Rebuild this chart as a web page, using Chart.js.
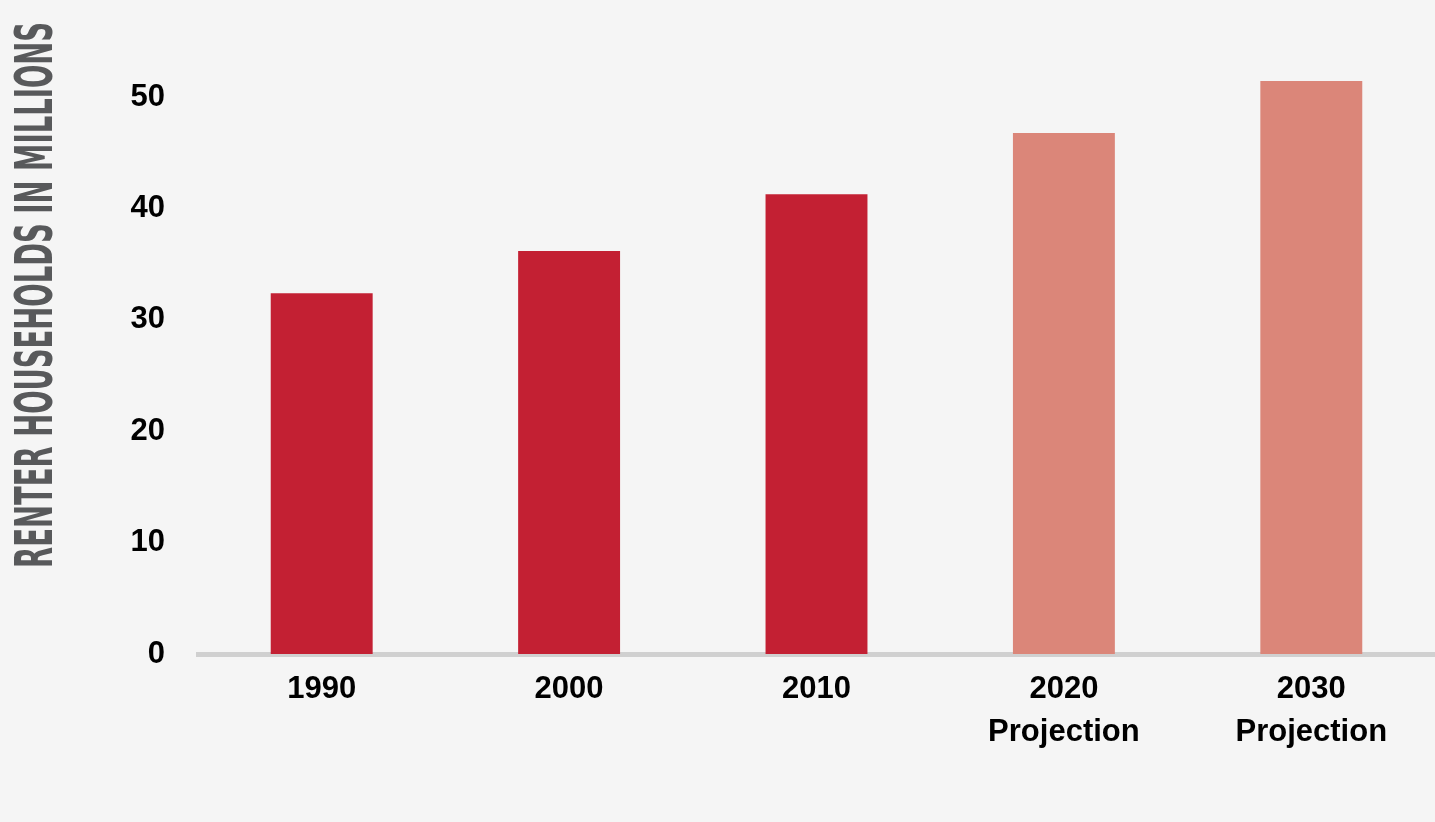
<!DOCTYPE html>
<html>
<head>
<meta charset="utf-8">
<script src="https://cdn.jsdelivr.net/npm/chart.js@4/dist/chart.umd.min.js"></script>
<style>
  html, body { margin: 0; padding: 0; background: #f5f5f5; }
  #wrap { width: 1435px; height: 822px; }
</style>
</head>
<body>
<div id="wrap"><canvas id="rentChart"></canvas></div>
<script>
let years = ["1990", "2000", "2010", ["2020", "Projection"], ["2030", "Projection"]];
let households = [32.4, 36.2, 41.3, 46.8, 51.45];
let barColors = ["#c32033", "#c32033", "#c32033", "#db8679", "#db8679"];
let yTicks = [0, 10, 20, 30, 40, 50];
let yTitle = "RENTER HOUSEHOLDS IN MILLIONS";

// rotated, squeezed axis title (the original uses a narrow display face)
let sideTitle = {
  id: "sideTitle",
  afterDraw(chart) {
    let ctx = chart.ctx;
    ctx.save();
    ctx.font = "bold 51px 'DejaVu Sans Condensed', 'Liberation Sans Narrow', 'DejaVu Sans', sans-serif";
    ctx.fillStyle = "#58595b";
    ctx.textAlign = "center";
    ctx.textBaseline = "alphabetic";
    let w = ctx.measureText(yTitle).width;
    ctx.translate(52, 295);
    ctx.rotate(-Math.PI / 2);
    ctx.scale(546 / w, 1);
    ctx.fillText(yTitle, 0, 0);
    ctx.restore();
  }
};

let ctx = document.getElementById("rentChart");
let rentChart = new Chart(ctx, {
  type: "bar",
  data: {
    labels: years,
    datasets: [{
      data: households,
      backgroundColor: barColors,
      borderWidth: 0,
      barPercentage: 0.412,
      categoryPercentage: 1
    }]
  },
  options: {
    responsive: true,
    maintainAspectRatio: false,
    animation: false,
    layout: { padding: { top: 30, left: 0, right: -2, bottom: 0 } },
    plugins: {
      legend: { display: false },
      tooltip: { enabled: false }
    },
    scales: {
      x: {
        grid: { display: false, drawTicks: false },
        border: { display: true, color: "#d0d0d0", width: 5 },
        ticks: {
          color: "#000",
          padding: 14,
          font: { family: "'Liberation Sans', Arial, sans-serif", size: 31, weight: "bold", lineHeight: 1.38 },
          maxRotation: 0,
          autoSkip: false
        },
        afterFit(scale) { scale.height = 168; }
      },
      y: {
        min: 0,
        max: 54.1,
        grid: { display: false, drawTicks: false },
        border: { display: false },
        ticks: {
          stepSize: 10,
          color: "#000",
          padding: 33,
          font: { family: "'Liberation Sans', Arial, sans-serif", size: 31, weight: "bold" }
        },
        afterBuildTicks(axis) {
          axis.ticks = yTicks.map(v => ({ value: v }));
        },
        afterFit(scale) { scale.width = 198; }
      }
    }
  },
  plugins: [sideTitle]
});
</script>
</body>
</html>
